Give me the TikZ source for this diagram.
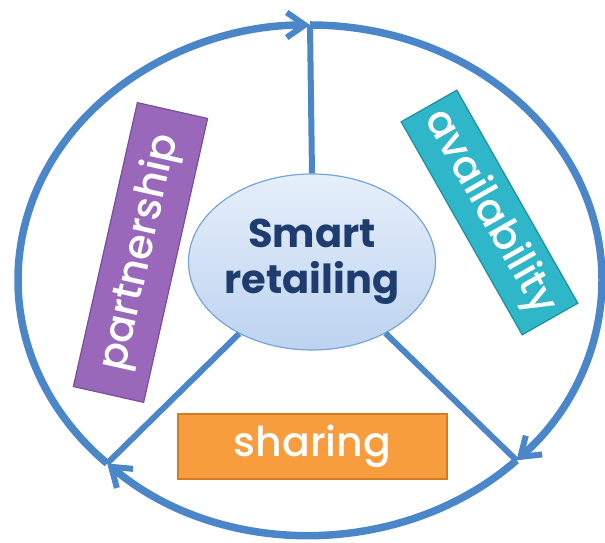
\documentclass[tikz,border=0pt]{standalone}
\usepackage{fontspec}
\setmainfont{Poppins}
\newfontfamily\medfont{Poppins Medium}
\usetikzlibrary{arrows.meta,shapes.geometric}
\definecolor{ringblue}{HTML}{4A86C8}
\definecolor{navy}{HTML}{1F3C6E}
\definecolor{purp}{HTML}{9A68BA}
\definecolor{purpd}{HTML}{7A4F99}
\definecolor{teal}{HTML}{2FB7C9}
\definecolor{teald}{HTML}{1F8E9E}
\definecolor{orng}{HTML}{F89D3E}
\definecolor{orngd}{HTML}{D27C25}
\definecolor{paleblue}{HTML}{E6EFFA}
\definecolor{midblue}{HTML}{BDD3F0}
\tikzset{
  ring/.style={draw=ringblue, line width=7.5pt},
  spoke/.style={draw=ringblue, line width=6pt},
  barb/.style={-{Straight Barb[length=18pt,width=25pt,line width=6pt]}},
  labelbox/.style={rectangle, line width=1.2pt, text=white, inner sep=0pt,
    font=\medfont\fontsize{41}{44}\selectfont},
}
\begin{document}
\begin{tikzpicture}[x=1pt,y=1pt]
\useasboundingbox (0,0) rectangle (605,543);
% junction points on the outer ring
\coordinate (top) at ({310+292*cos(90)},{263+255*sin(90)});
\coordinate (jr) at ({310+292*cos(-45)},{263+255*sin(-45)});
\coordinate (jl) at ({310+292*cos(226)},{263+255*sin(226)});
% outer ring arcs, clockwise
\draw[ring,barb] (jl) arc[start angle=226, end angle=90, x radius=292, y radius=255];
\draw[ring,barb] (top) arc[start angle=90, end angle=-45, x radius=292, y radius=255];
\draw[ring,barb] (jr) arc[start angle=-45, end angle=-134, x radius=292, y radius=255];
% centre
\node[ellipse, draw=ringblue!75!white, line width=1.2pt, minimum width=240pt, minimum height=176pt,
      inner sep=0pt, top color=paleblue, bottom color=midblue,
      text=navy, align=center, font=\bfseries\fontsize{40}{46}\selectfont] (ctr) at (312,281)
      {Smart\\retailing};
\draw[spoke] (ctr.north) -- (top);
\draw[spoke] (ctr) -- (jl);
\draw[spoke] (ctr) -- (jr);
% labels
\node[labelbox, fill=purp, draw=purpd, minimum width=291pt, minimum height=72pt, rotate=77.3]
  (part) at (140.5,290.5) {partnership};
\node[labelbox, fill=teal, draw=teald, minimum width=245pt, minimum height=64pt, rotate=-60.4]
  (avail) at (489.5,330.5) {availability};
\node[labelbox, fill=orng, draw=orngd, minimum width=269pt, minimum height=65pt]
  (share) at (312.5,96.5) {sharing};
\end{tikzpicture}
\end{document}
